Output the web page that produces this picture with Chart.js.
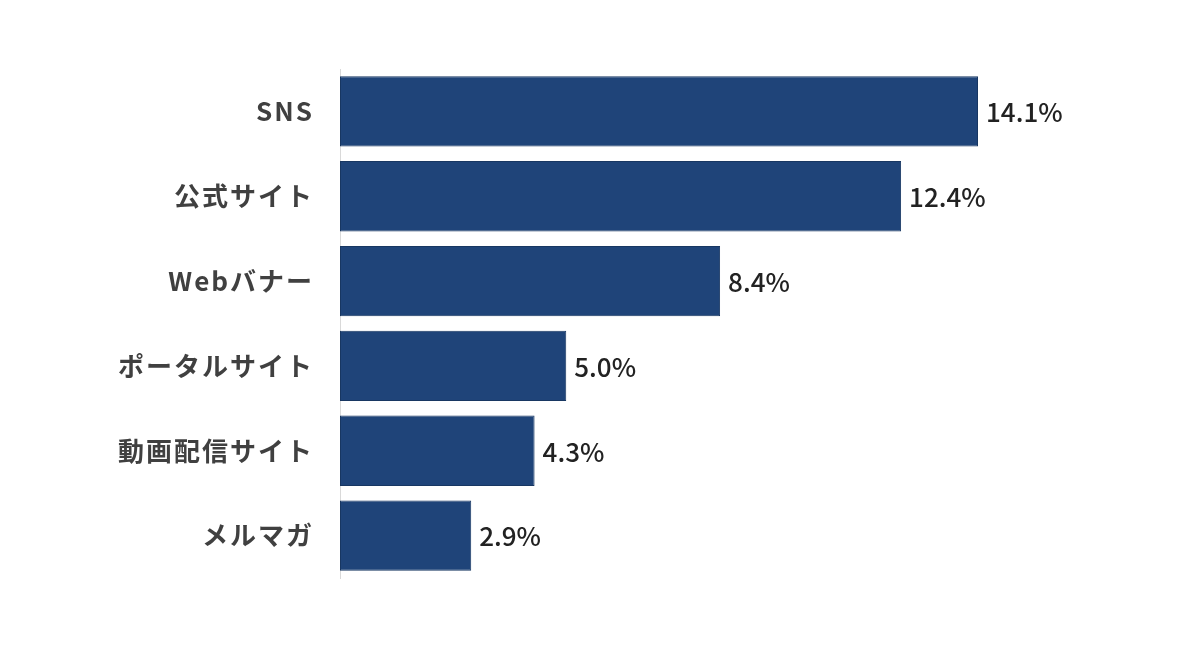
<!DOCTYPE html>
<html lang="ja">
<head>
<meta charset="utf-8">
<title>認知経路</title>
<script src="https://cdn.jsdelivr.net/npm/chart.js@4"></script>
<style>
  html, body { margin: 0; padding: 0; background: #ffffff; }
  #wrap { width: 1200px; height: 646px; position: relative; }
</style>
</head>
<body>
<div id="wrap"><canvas id="barChart"></canvas></div>
<script>
// Chart data
const categories = ['SNS', '公式サイト', 'Webバナー', 'ポータルサイト', '動画配信サイト', 'メルマガ'];
const shares = [14.1, 12.4, 8.4, 5.0, 4.3, 2.9];
const axisMax = 16;

const BAR_COLOR = '#1f4479';
const BAR_EDGE = '#183762';
const FONT = '"Noto Sans CJK JP", "Noto Sans", sans-serif';

/**
 * Draws the category names left of the axis and the % values after each bar
 */
const labelPlugin = {
    id: 'barLabels',
    afterDatasetsDraw(chart) {
        const ctx = chart.ctx;
        const meta = chart.getDatasetMeta(0);
        const yScale = chart.scales.y;
        ctx.save();
        ctx.textBaseline = 'middle';

        // category labels
        ctx.font = '600 26px ' + FONT;
        ctx.fillStyle = '#404040';
        ctx.textAlign = 'right';
        ctx.letterSpacing = '2px';
        categories.forEach((name, i) => {
            ctx.fillText(name, chart.chartArea.left - 26, yScale.getPixelForValue(i));
        });

        // value labels
        ctx.font = '500 26px ' + FONT;
        ctx.fillStyle = '#222222';
        ctx.textAlign = 'left';
        ctx.letterSpacing = '0px';
        meta.data.forEach((bar, i) => {
            ctx.fillText(shares[i].toFixed(1) + '%', bar.x + 8, bar.y + 1);
        });
        ctx.restore();
    }
};

new Chart(document.getElementById('barChart'), {
    type: 'bar',
    data: {
        labels: categories,
        datasets: [{
            data: shares,
            backgroundColor: BAR_COLOR,
            borderColor: BAR_EDGE,
            borderWidth: 1,
            borderSkipped: false,
            categoryPercentage: 0.83,
            barPercentage: 1.0
        }]
    },
    options: {
        indexAxis: 'y',
        responsive: true,
        maintainAspectRatio: false,
        animation: false,
        layout: {
            padding: { left: 332, right: 136, top: 69, bottom: 68 }
        },
        plugins: {
            legend: { display: false },
            tooltip: { enabled: false }
        },
        scales: {
            x: {
                min: 0,
                max: axisMax,
                display: false
            },
            y: {
                grid: { display: false },
                border: { display: true, color: '#d9d9d9', width: 1 },
                ticks: { display: false }
            }
        }
    },
    plugins: [labelPlugin]
});
</script>
</body>
</html>
